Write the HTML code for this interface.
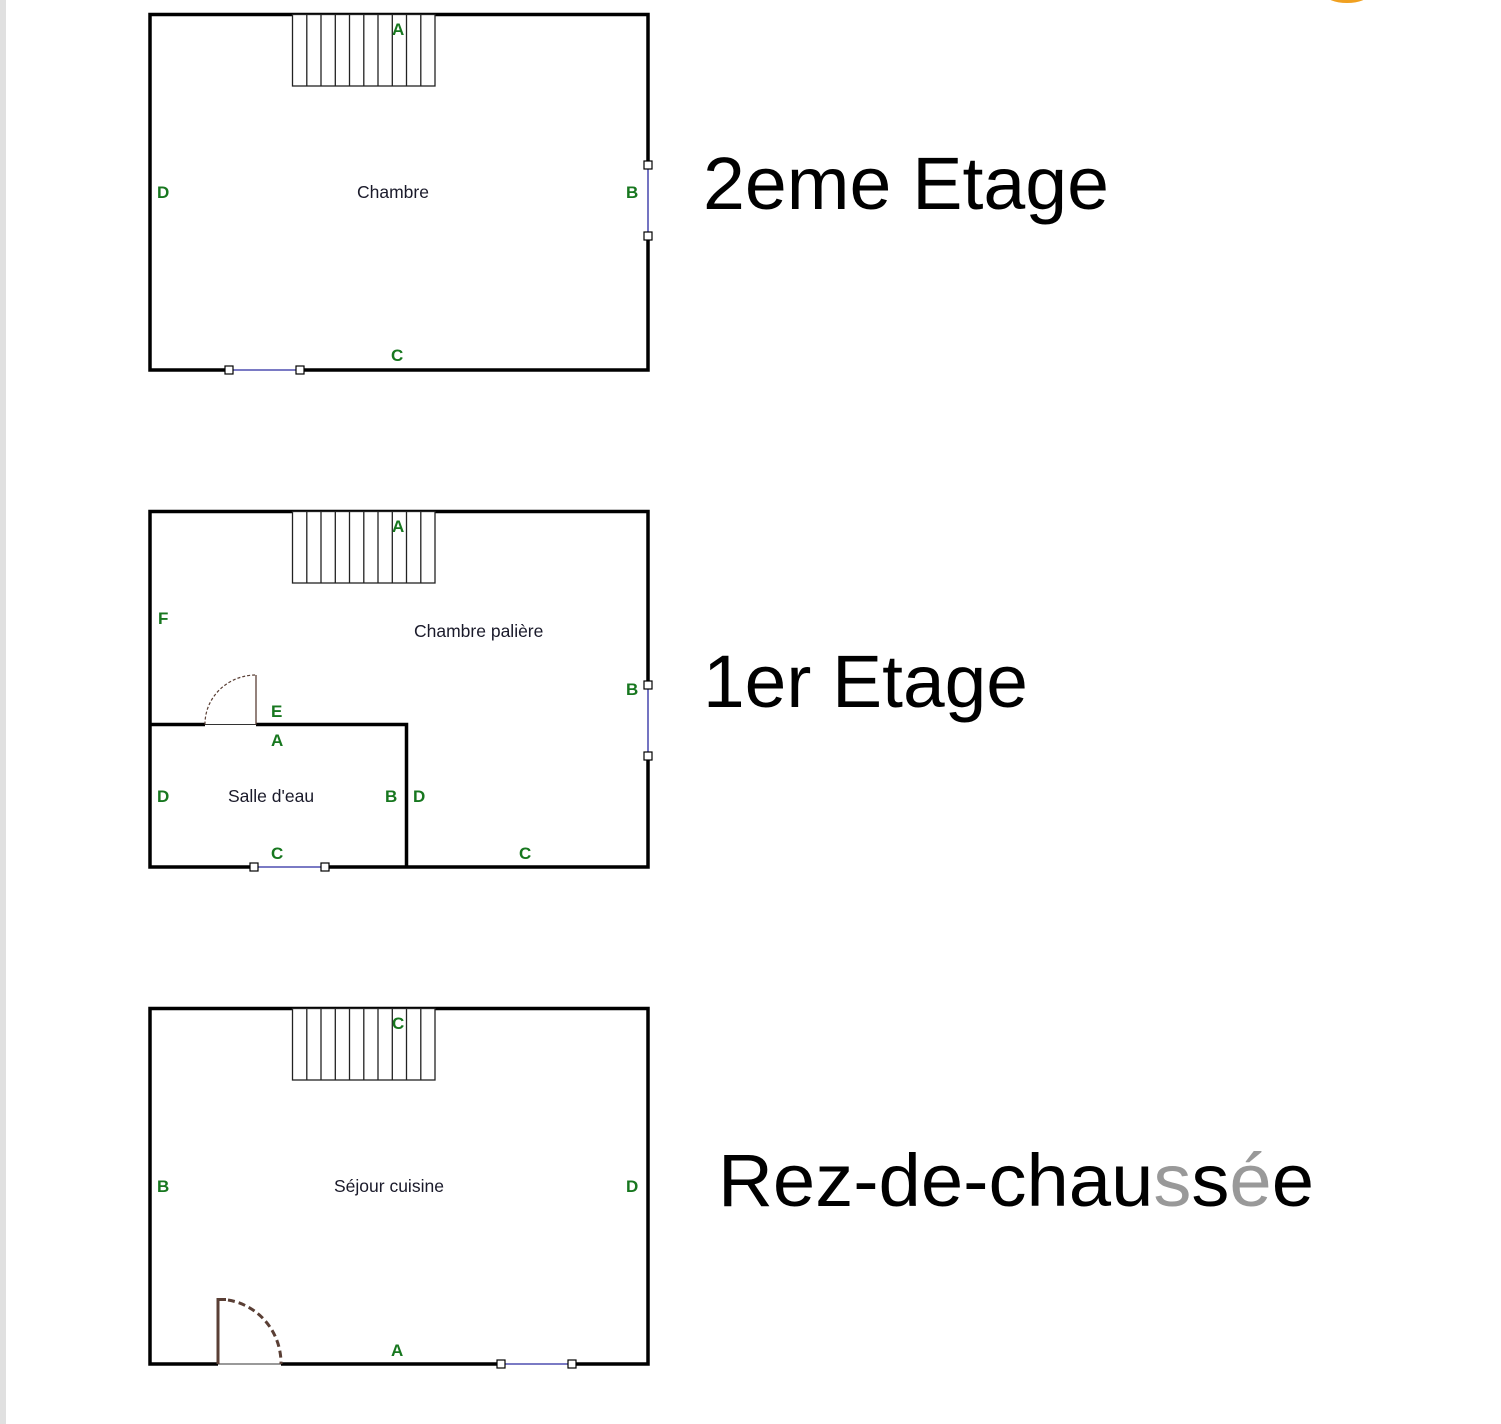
<!DOCTYPE html>
<html><head><meta charset="utf-8"><style>
html,body{margin:0;padding:0;background:#fff;}
svg{display:block;}
.lbl{font-family:"Liberation Sans",sans-serif;font-size:17px;font-weight:bold;fill:#17771f;}
.room{font-family:"Liberation Sans",sans-serif;font-size:17.5px;fill:#1a1a2a;}
.title{font-family:"Liberation Sans",sans-serif;font-size:74px;fill:#000;}
</style></head><body>
<svg width="1501" height="1424" viewBox="0 0 1501 1424" xmlns="http://www.w3.org/2000/svg">
<rect x="0" y="0" width="6" height="1424" fill="#e0e0e0"/>
<ellipse cx="1347" cy="-6" rx="22" ry="9" fill="#f0a020"/>

<!-- Floor 2 -->
<g>
<rect x="150" y="14.5" width="498" height="355.5" fill="none" stroke="#000" stroke-width="3.5"/>
<rect x="292.5" y="14.5" width="142.5" height="71.5" fill="#fff" stroke="#222" stroke-width="1.3"/>
<path d="M306.8 14.5v71.5M321 14.5v71.5M335.3 14.5v71.5M349.5 14.5v71.5M363.8 14.5v71.5M378 14.5v71.5M392.3 14.5v71.5M406.5 14.5v71.5M420.8 14.5v71.5" stroke="#222" stroke-width="1.3"/>
<line x1="648" y1="165" x2="648" y2="236" stroke="#fff" stroke-width="4.5"/>
<line x1="648" y1="165" x2="648" y2="236" stroke="#2a2aa0" stroke-width="1.3"/>
<rect x="644" y="161" width="8" height="8" fill="#fff" stroke="#000" stroke-width="1.2"/>
<rect x="644" y="232" width="8" height="8" fill="#fff" stroke="#000" stroke-width="1.2"/>
<line x1="229" y1="370" x2="300" y2="370" stroke="#fff" stroke-width="4.5"/>
<line x1="229" y1="370" x2="300" y2="370" stroke="#2a2aa0" stroke-width="1.3"/>
<rect x="225" y="366" width="8" height="8" fill="#fff" stroke="#000" stroke-width="1.2"/>
<rect x="296" y="366" width="8" height="8" fill="#fff" stroke="#000" stroke-width="1.2"/>
<text class="lbl" x="392" y="35">A</text>
<text class="lbl" x="157" y="198">D</text>
<text class="lbl" x="626" y="198">B</text>
<text class="lbl" x="391" y="361">C</text>
<text class="room" x="357" y="198">Chambre</text>
<text class="title" x="703" y="209" textLength="406" lengthAdjust="spacingAndGlyphs">2eme Etage</text>
</g>

<!-- Floor 1 -->
<g>
<rect x="150" y="511.5" width="498" height="355.5" fill="none" stroke="#000" stroke-width="3.5"/>
<rect x="292.5" y="511.5" width="142.5" height="71.5" fill="#fff" stroke="#222" stroke-width="1.3"/>
<path d="M306.8 511.5v71.5M321 511.5v71.5M335.3 511.5v71.5M349.5 511.5v71.5M363.8 511.5v71.5M378 511.5v71.5M392.3 511.5v71.5M406.5 511.5v71.5M420.8 511.5v71.5" stroke="#222" stroke-width="1.3"/>
<path d="M150 724.5H205M256 724.5H406.5V867" fill="none" stroke="#000" stroke-width="3.5"/>
<line x1="205" y1="724.5" x2="256" y2="724.5" stroke="#333" stroke-width="1"/>
<line x1="256" y1="675" x2="256" y2="724.5" stroke="#5a3f35" stroke-width="1.3"/>
<path d="M205 724.5 A51 49 0 0 1 256 675" fill="none" stroke="#5a3f35" stroke-width="1.2" stroke-dasharray="3,2"/>
<line x1="648" y1="685" x2="648" y2="756" stroke="#fff" stroke-width="4.5"/>
<line x1="648" y1="685" x2="648" y2="756" stroke="#2a2aa0" stroke-width="1.3"/>
<rect x="644" y="681" width="8" height="8" fill="#fff" stroke="#000" stroke-width="1.2"/>
<rect x="644" y="752" width="8" height="8" fill="#fff" stroke="#000" stroke-width="1.2"/>
<line x1="254" y1="867" x2="325" y2="867" stroke="#fff" stroke-width="4.5"/>
<line x1="254" y1="867" x2="325" y2="867" stroke="#2a2aa0" stroke-width="1.3"/>
<rect x="250" y="863" width="8" height="8" fill="#fff" stroke="#000" stroke-width="1.2"/>
<rect x="321" y="863" width="8" height="8" fill="#fff" stroke="#000" stroke-width="1.2"/>
<text class="lbl" x="392" y="532">A</text>
<text class="lbl" x="158" y="624">F</text>
<text class="lbl" x="626" y="695">B</text>
<text class="lbl" x="271" y="717">E</text>
<text class="lbl" x="271" y="746">A</text>
<text class="lbl" x="157" y="802">D</text>
<text class="lbl" x="385" y="802">B</text>
<text class="lbl" x="413" y="802">D</text>
<text class="lbl" x="271" y="859">C</text>
<text class="lbl" x="519" y="859">C</text>
<text class="room" x="414" y="637">Chambre palière</text>
<text class="room" x="228" y="802">Salle d'eau</text>
<text class="title" x="703" y="707" textLength="325" lengthAdjust="spacingAndGlyphs">1er Etage</text>
</g>

<!-- Ground floor -->
<g>
<rect x="150" y="1008.5" width="498" height="355.5" fill="none" stroke="#000" stroke-width="3.5"/>
<rect x="292.5" y="1008.5" width="142.5" height="71.5" fill="#fff" stroke="#222" stroke-width="1.3"/>
<path d="M306.8 1008.5v71.5M321 1008.5v71.5M335.3 1008.5v71.5M349.5 1008.5v71.5M363.8 1008.5v71.5M378 1008.5v71.5M392.3 1008.5v71.5M406.5 1008.5v71.5M420.8 1008.5v71.5" stroke="#222" stroke-width="1.3"/>
<line x1="218" y1="1364" x2="281" y2="1364" stroke="#fff" stroke-width="4.5"/>
<line x1="218" y1="1364" x2="281" y2="1364" stroke="#333" stroke-width="1"/>
<path d="M218 1364V1299.5H226" fill="none" stroke="#5a3f35" stroke-width="3"/>
<path d="M228 1300 A63 64 0 0 1 281 1364" fill="none" stroke="#5a3f35" stroke-width="3" stroke-dasharray="7,4"/>
<line x1="501" y1="1364" x2="572" y2="1364" stroke="#fff" stroke-width="4.5"/>
<line x1="501" y1="1364" x2="572" y2="1364" stroke="#2a2aa0" stroke-width="1.3"/>
<rect x="497" y="1360" width="8" height="8" fill="#fff" stroke="#000" stroke-width="1.2"/>
<rect x="568" y="1360" width="8" height="8" fill="#fff" stroke="#000" stroke-width="1.2"/>
<text class="lbl" x="392" y="1029">C</text>
<text class="lbl" x="157" y="1192">B</text>
<text class="lbl" x="626" y="1192">D</text>
<text class="lbl" x="391" y="1356">A</text>
<text class="room" x="334" y="1192">Séjour cuisine</text>
<text class="title" x="718" y="1206" textLength="596" lengthAdjust="spacingAndGlyphs">Rez-de-chau<tspan fill="#999">s</tspan>s<tspan fill="#999">é</tspan>e</text>
</g>
</svg>
</body></html>
